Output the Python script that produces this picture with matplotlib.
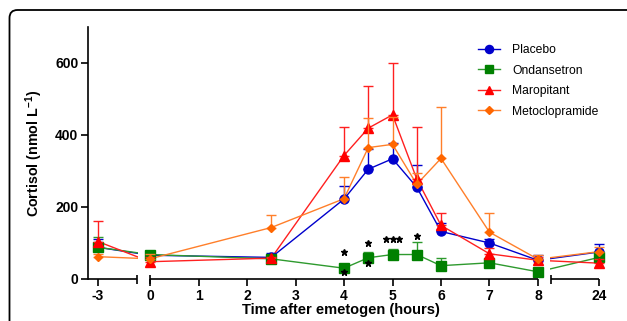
import numpy as np
import matplotlib
matplotlib.use('Agg')
import matplotlib.pyplot as plt
from matplotlib.patches import FancyBboxPatch

plt.rcParams['font.family'] = ['Liberation Sans', 'DejaVu Sans']
plt.rcParams['mathtext.fontset'] = 'custom'
plt.rcParams['mathtext.rm'] = 'Liberation Sans'
plt.rcParams['mathtext.bf'] = 'Liberation Sans:bold'

# time points (hours after emetogen)
hours = [-3, 0, 2.5, 4, 4.5, 5, 5.5, 6, 7, 8, 24]

# mean cortisol and upper SD
placebo = [88, 66, 60, 222, 305, 334, 255, 132, 100, 52, 75]
placebo_err = [24, 9, 12, 36, 55, 44, 61, 23, 10, 16, 22]
ondansetron = [88, 68, 56, 30, 59, 68, 68, 37, 45, 20, 60]
ondansetron_err = [28, 8, 5, 5, 16, 15, 34, 21, 5, 5, 8]
maropitant = [104, 48, 58, 343, 419, 456, 278, 149, 70, 52, 44]
maropitant_err = [57, 12, 4, 78, 117, 144, 145, 33, 15, 8, 11]
metoclopramide = [62, 56, 143, 223, 365, 374, 263, 335, 130, 55, 76]
metoclopramide_err = [8, 14, 35, 59, 81, 76, 32, 143, 52, 13, 14]

# significance stars
star_x = [4, 4, 4.5, 4.5, 4.86, 5.0, 5.14, 5.5]
star_y = [75, 19, 100, 44, 111, 111, 111, 119]

xticks = [-3, 0, 1, 2, 3, 4, 5, 6, 7, 8, 24]

# broken x axis as a piecewise linear scale (units = pixels)
H = [-100, -3, 0, 8, 24, 100]
P = [98 - 97 * 17.33, 98, 150, 538, 599, 599 + 76 * 3.81]


def fwd(h):
    return np.interp(h, H, P)


def inv(p):
    return np.interp(p, P, H)


fig = plt.figure(figsize=(6.27, 3.21), dpi=100)

frame = FancyBboxPatch((0.095, -0.5), 6.3, 3.61, boxstyle='round,pad=0,rounding_size=0.08',
                       transform=fig.dpi_scale_trans, fill=False, edgecolor='black', linewidth=1.3)
fig.patches.append(frame)

ax = fig.add_axes([88 / 627, 1 - 279 / 321, 512.5 / 627, 252 / 321])
ax.set_xscale('function', functions=(fwd, inv))
ax.set_xlim(-3.58, 24.4)
ax.set_ylim(0, 700)

series = [
    ('Placebo', placebo, placebo_err, '#0000CC', '#0000CC', 'o', 6.5),
    ('Ondansetron', ondansetron, ondansetron_err, '#008000', '#2E9A2E', 's', 6.5),
    ('Maropitant', maropitant, maropitant_err, '#FF0000', '#FF2020', '^', 6.5),
    ('Metoclopramide', metoclopramide, metoclopramide_err, '#FF6600', '#FF7F2A', 'D', 4.5),
]

handles = []
for i, (name, y, err, mc, lc, mk, ms) in enumerate(series):
    z = 3 + i
    ax.plot(hours, y, color=lc, linewidth=1.0, zorder=2)
    ax.errorbar(hours, y, yerr=[np.zeros(len(err)), err], fmt='none', ecolor=lc,
                elinewidth=1.0, capsize=3.5, capthick=1.0, zorder=z, clip_on=False)
    ax.plot(hours, y, linestyle='none', marker=mk, markersize=ms, color=mc, zorder=z + 0.5,
            clip_on=False)
    h, = ax.plot([], [], color=lc, linewidth=1.0, marker=mk, markersize=ms * 0.9,
                 markerfacecolor=mc, markeredgecolor=mc)
    handles.append(h)

# white gaps where the axis is broken
ax.axvspan(inv(138), inv(145), color='white', zorder=2.5, linewidth=0)
ax.axvspan(inv(543), inv(550), color='white', zorder=2.5, linewidth=0)

ax.plot(star_x, star_y, linestyle='none', marker='*', markersize=5, color='black', zorder=10)

# axes styling
for s in ['top', 'right', 'bottom']:
    ax.spines[s].set_visible(False)
ax.spines['left'].set_linewidth(1.2)

seg_kw = dict(color='black', linewidth=1.2, clip_on=False, zorder=12, solid_capstyle='butt')
px = 1 / 0.36
ax.plot([-3.58, inv(137)], [0, 0], **seg_kw)
ax.plot([0, 8], [0, 0], **seg_kw)
ax.plot([inv(551), 24], [0, 0], **seg_kw)
for b in [inv(137), 0, inv(551)]:
    ax.plot([b, b], [-4.5 * px, 4.5 * px], **seg_kw)

ax.set_xticks(xticks)
ax.set_xticklabels([str(t) for t in xticks])
ax.set_yticks([0, 200, 400, 600])
ax.tick_params(direction='out', length=5, width=1.2, labelsize=10, pad=2)
for lab in ax.get_xticklabels() + ax.get_yticklabels():
    lab.set_fontweight('bold')

ax.set_ylabel('Cortisol (nmol L$^{\\mathbf{-1}}$)', fontsize=10.3, fontweight='bold')
ax.yaxis.set_label_coords(-0.084, 0.5)
ax.set_xlabel('Time after emetogen (hours)', fontsize=10.5, fontweight='bold')
ax.xaxis.set_label_coords(0.494, -0.122)
ax.xaxis.label.set_va('center')

ax.legend(handles, [s[0] for s in series], loc='upper left', bbox_to_anchor=(0.74, 0.975),
          frameon=False, fontsize=8.7, handlelength=1.8, handletextpad=1.0, labelspacing=0.7)

fig.savefig('out.png', dpi=100)
